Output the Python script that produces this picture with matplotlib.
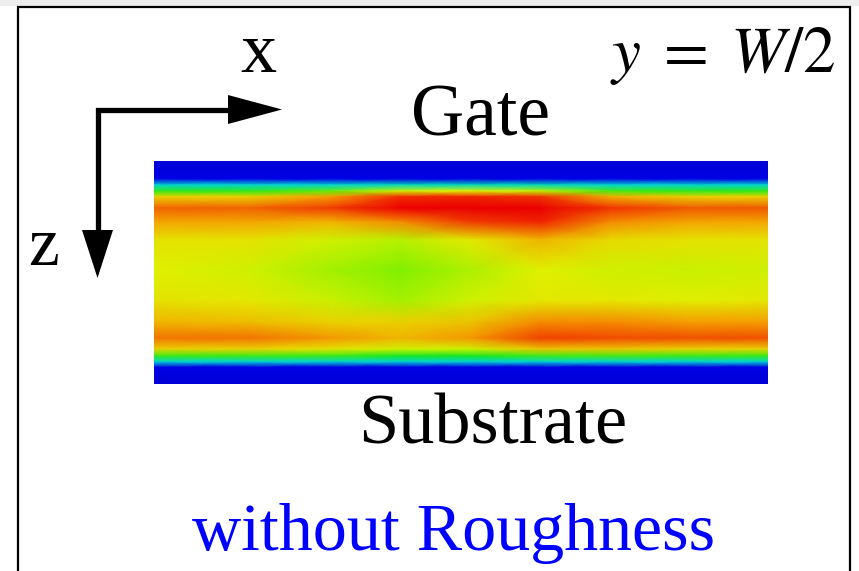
import numpy as np
import matplotlib
matplotlib.use("Agg")
import matplotlib.pyplot as plt
from matplotlib.colors import LinearSegmentedColormap
from matplotlib.patches import Rectangle, Polygon

# Field map (y = W/2 cut, no roughness)
# x nodes: fraction of channel length, z nodes: fraction of thickness (0 = gate side)
x_nodes = [0.0, 0.156, 0.287, 0.401, 0.515, 0.629, 0.743, 0.873, 1.0]
z_nodes = [0.0, 0.080, 0.108, 0.135, 0.160, 0.211, 0.274, 0.354, 0.489,
           0.623, 0.722, 0.794, 0.843, 0.874, 0.900, 0.925, 1.0]

field = [
    [0.05, 0.05, 0.05, 0.05, 0.05, 0.05, 0.05, 0.05, 0.05],
    [0.11, 0.11, 0.11, 0.11, 0.11, 0.11, 0.11, 0.11, 0.11],
    [0.28, 0.28, 0.28, 0.30, 0.30, 0.30, 0.28, 0.28, 0.28],
    [0.46, 0.46, 0.50, 0.62, 0.64, 0.60, 0.48, 0.46, 0.46],
    [0.68, 0.68, 0.75, 0.89, 0.90, 0.88, 0.73, 0.68, 0.68],
    [0.82, 0.82, 0.87, 0.96, 0.98, 0.98, 0.88, 0.83, 0.83],
    [0.74, 0.74, 0.72, 0.77, 0.87, 0.90, 0.77, 0.74, 0.74],
    [0.66, 0.66, 0.62, 0.59, 0.65, 0.72, 0.67, 0.66, 0.66],
    [0.64, 0.62, 0.57, 0.53, 0.58, 0.64, 0.62, 0.61, 0.62],
    [0.66, 0.65, 0.61, 0.57, 0.62, 0.65, 0.65, 0.64, 0.65],
    [0.72, 0.71, 0.68, 0.68, 0.70, 0.77, 0.77, 0.75, 0.75],
    [0.80, 0.80, 0.76, 0.72, 0.76, 0.86, 0.85, 0.84, 0.84],
    [0.68, 0.68, 0.66, 0.62, 0.62, 0.70, 0.70, 0.68, 0.68],
    [0.47, 0.47, 0.47, 0.44, 0.44, 0.47, 0.48, 0.47, 0.47],
    [0.28, 0.28, 0.28, 0.28, 0.28, 0.28, 0.28, 0.28, 0.28],
    [0.11, 0.11, 0.11, 0.11, 0.11, 0.11, 0.11, 0.11, 0.11],
    [0.05, 0.05, 0.05, 0.05, 0.05, 0.05, 0.05, 0.05, 0.05],
]

cmap_stops = [0.0, 0.11, 0.25, 0.42, 0.53, 0.64, 0.75, 0.83, 0.95, 1.0]
cmap_colors = ["#0000c8", "#0000e6", "#00d2f0", "#00e628", "#82f000",
               "#e1f000", "#f5a000", "#f05a00", "#f00000", "#e60000"]
cmap = LinearSegmentedColormap.from_list("field", list(zip(cmap_stops, cmap_colors)))

W, H = 859, 571
fig = plt.figure(figsize=(W / 100, H / 100), dpi=100)
plt.rcParams["mathtext.fontset"] = "stix"
serif = ["Liberation Serif", "DejaVu Serif"]

# Page-space axes for frame, arrows and labels
bg = fig.add_axes([0, 0, 1, 1])
bg.set_xlim(0, W)
bg.set_ylim(H, 0)
bg.axis("off")
bg.add_patch(Rectangle((0, 0), W, 5.5, facecolor="#eeeeee", edgecolor="none"))
bg.plot([17.5, 17.5, 849.5, 849.5], [H + 5, 6.5, 6.5, H + 5], color="black", lw=1.6,
        solid_joinstyle="miter")

# Axis indicator
bg.plot([97.5, 97.5, 232], [240, 109.5, 109.5], color="black", lw=3.8,
        solid_joinstyle="miter", solid_capstyle="butt")
bg.add_patch(Polygon([[228, 95], [282, 109.5], [228, 124]], closed=True,
                     facecolor="black", edgecolor="none"))
bg.add_patch(Polygon([[82, 230], [113, 230], [97.5, 278]], closed=True,
                     facecolor="black", edgecolor="none"))

bg.text(258, 72, "x", fontsize=52, family=serif, ha="center", va="baseline")
bg.text(44, 265, "z", fontsize=50, family=serif, ha="center", va="baseline")
bg.text(480, 135, "Gate", fontsize=53, family=serif, ha="center", va="baseline")
bg.text(493, 444, "Substrate", fontsize=52, family=serif, ha="center", va="baseline")
bg.text(454, 550, "without Roughness", fontsize=49, family=serif, color="#0000ff",
        ha="center", va="baseline")
bg.text(836, 72, r"$y\;=\;W/2$", fontsize=47, ha="right", va="baseline")

# Field map
ax = fig.add_axes([154 / W, 1 - 384 / H, 614 / W, 223 / H])
X, Z = np.meshgrid(x_nodes, z_nodes)
ax.pcolormesh(X, Z, np.array(field), cmap=cmap, vmin=0, vmax=1, shading="gouraud")
ax.set_xlim(0, 1)
ax.set_ylim(1, 0)
ax.axis("off")

fig.savefig("out.png", dpi=100)
